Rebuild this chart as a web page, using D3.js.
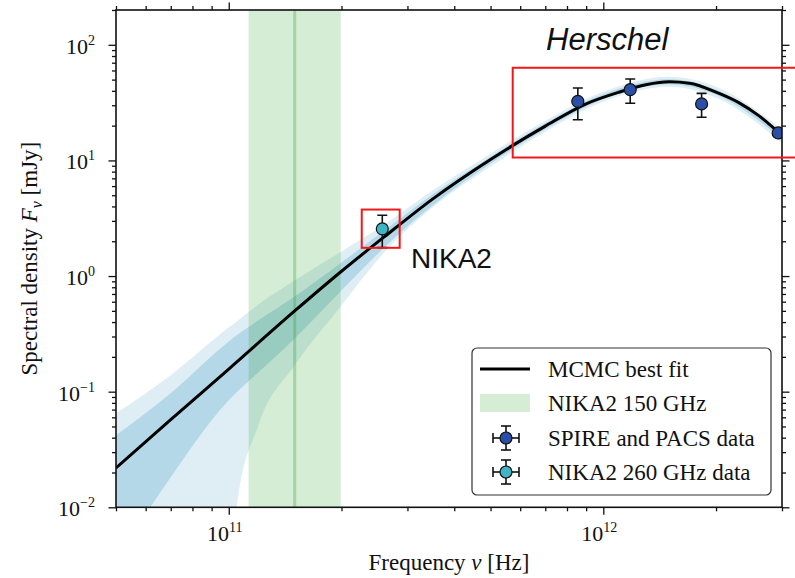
<!DOCTYPE html>
<html>
<head>
<meta charset="utf-8">
<script src="https://cdn.jsdelivr.net/npm/d3@7"></script>
<style>
  body { margin: 0; background: #fff; }
  svg { display: block; }
</style>
</head>
<body>
<svg id="chart" width="795" height="578"></svg>
<script>
// MCMC best-fit spectral energy distribution (Hz, mJy)
const fitFreq = [5e10, 7e10, 1e11, 1.5e11, 2e11, 2.6e11, 3.5e11, 5e11, 7e11, 9e11,
                 1.1e12, 1.3e12, 1.5e12, 1.7e12, 2e12, 2.3e12, 2.6e12, 3e12];
const fitFlux = [0.0219, 0.0572, 0.157, 0.499, 1.10, 2.18, 4.63, 10.2, 19.8, 30.9,
                 38.9, 45.2, 47.9, 46.5, 38.9, 31.6, 24.4, 16.4];

// posterior envelopes around the fit
const bandFreq   = [5e10, 7e10, 1e11, 1.05e11, 1.2e11, 1.5e11, 2e11, 2.6e11, 3.5e11,
                    5e11, 7e11, 1e12, 1.5e12, 2e12, 3e12];
const outerUpper = [0.0651, 0.1386, 0.360, 0.4055, 0.5685, 0.916, 1.631, 2.79, 5.49,
                    11.45, 22.07, 39.3, 52.9, 43.4, 18.45];
const outerLower = [0.00001, 0.0001, 0.0016, 0.0100, 0.0513, 0.169, 0.557, 1.60, 3.91,
                    8.84, 17.73, 32.2, 43.4, 34.85, 14.25];
const innerUpper = [0.0420, 0.0969, 0.272, 0.307, 0.414, 0.666, 1.310, 2.476, 5.07,
                    10.78, 21.0, 37.4, 50.4, 40.9, 17.39];
const innerLower = [0.0035, 0.0182, 0.0843, 0.0988, 0.147, 0.289, 0.751, 1.766, 4.07,
                    9.385, 18.64, 33.8, 45.6, 37.0, 15.43];

// Herschel SPIRE / PACS photometry
const spireFreq = [8.55e11, 1.18e12, 1.83e12, 2.93e12];
const spireFlux = [32.4, 40.9, 30.8, 17.3];
const spireErr  = [9.9, 9.7, 7.2, 1.2];

// NIKA2 260 GHz photometry
const nikaFreq = [2.57e11];
const nikaFlux = [2.56];
const nikaErr  = [0.8];

// NIKA2 150 GHz bandpass
const nika150Span = [1.13e11, 1.99e11];
const nika150Centre = [1.5e11];

// axis decades
const xTickExps = [11, 12];
const yTickExps = [-2, -1, 0, 1, 2];

const legendLabels = ["MCMC best fit", "NIKA2 150 GHz", "SPIRE and PACS data", "NIKA2 260 GHz data"];

const serif = "'Liberation Serif', 'Times New Roman', serif";
const sans = "'Liberation Sans', Arial, sans-serif";
const blue = "#8cc3da";
const spireColor = "#2b4fa6";
const nikaColor = "#3fb4c4";

const svg = d3.select("#chart");
const plot = { left: 116, right: 782, top: 10, bottom: 507.3 };

const x = d3.scaleLog().domain([5e10, 3e12]).range([plot.left, plot.right]);
const y = d3.scaleLog().domain([1e-2, 200]).range([plot.bottom, plot.top]);

svg.append("defs").append("clipPath").attr("id", "plot-clip")
  .append("rect")
  .attr("x", plot.left).attr("y", plot.top)
  .attr("width", plot.right - plot.left).attr("height", plot.bottom - plot.top);

const g = svg.append("g").attr("clip-path", "url(#plot-clip)");

// envelopes
const bandRows = (lo, hi) => bandFreq.map((f, i) => ({ f, lo: lo[i], hi: hi[i] }));
const area = d3.area()
  .x(d => x(d.f)).y0(d => y(d.lo)).y1(d => y(d.hi))
  .curve(d3.curveMonotoneX);

g.append("path").datum(bandRows(outerLower, outerUpper))
  .attr("d", area).attr("fill", blue).attr("fill-opacity", 0.28);
g.append("path").datum(bandRows(innerLower, innerUpper))
  .attr("d", area).attr("fill", blue).attr("fill-opacity", 0.52);

// NIKA2 150 GHz band
g.append("rect")
  .attr("x", x(nika150Span[0])).attr("y", plot.top)
  .attr("width", x(nika150Span[1]) - x(nika150Span[0]))
  .attr("height", plot.bottom - plot.top)
  .attr("fill", "#2ca02c").attr("fill-opacity", 0.2);
g.selectAll(".nika150-centre").data(nika150Centre).join("line")
  .attr("x1", d => x(d)).attr("x2", d => x(d))
  .attr("y1", plot.top).attr("y2", plot.bottom)
  .attr("stroke", "#2ca02c").attr("stroke-opacity", 0.3).attr("stroke-width", 3);

// best fit
const line = d3.line().x(d => x(d[0])).y(d => y(d[1])).curve(d3.curveMonotoneX);
g.append("path").datum(fitFreq.map((f, i) => [f, fitFlux[i]]))
  .attr("d", line).attr("fill", "none").attr("stroke", "#000").attr("stroke-width", 3);

// photometry with error bars
function drawPoints(freq, flux, err, fill) {
  const pts = freq.map((f, i) => ({ f, v: flux[i], e: err[i] }));
  const grp = g.append("g");
  const eb = grp.selectAll("g").data(pts).join("g")
    .attr("stroke", "#111").attr("stroke-width", 1.6);
  eb.append("line")
    .attr("x1", d => x(d.f)).attr("x2", d => x(d.f))
    .attr("y1", d => y(d.v - d.e)).attr("y2", d => y(d.v + d.e));
  eb.append("line")
    .attr("x1", d => x(d.f) - 5).attr("x2", d => x(d.f) + 5)
    .attr("y1", d => y(d.v + d.e)).attr("y2", d => y(d.v + d.e));
  eb.append("line")
    .attr("x1", d => x(d.f) - 5).attr("x2", d => x(d.f) + 5)
    .attr("y1", d => y(d.v - d.e)).attr("y2", d => y(d.v - d.e));
  grp.selectAll("circle").data(pts).join("circle")
    .attr("cx", d => x(d.f)).attr("cy", d => y(d.v)).attr("r", 6)
    .attr("fill", fill).attr("stroke", "#111").attr("stroke-width", 1.2);
}
drawPoints(spireFreq, spireFlux, spireErr, spireColor);
drawPoints(nikaFreq, nikaFlux, nikaErr, nikaColor);

// ticks
function minorTicks(lo, hi) {
  const out = [];
  for (let e = Math.floor(Math.log10(lo)); e <= Math.ceil(Math.log10(hi)); e++) {
    for (let k = 2; k <= 9; k++) {
      const v = k * Math.pow(10, e);
      if (v >= lo * 0.999 && v <= hi * 1.001) out.push(v);
    }
  }
  return out;
}
const xMajor = xTickExps.map(e => Math.pow(10, e));
const yMajor = yTickExps.map(e => Math.pow(10, e));
const xMinor = minorTicks(...x.domain());
const yMinor = minorTicks(...y.domain());

function styleAxis(sel) {
  sel.select(".domain").remove();
  sel.selectAll(".tick line").attr("stroke", "#111").attr("stroke-width", 1.3);
}
const mk = (axisFn, scale, vals, size) =>
  axisFn(scale).tickValues(vals).tickSize(size).tickFormat("");

const axes = svg.append("g");
[[d3.axisBottom, x, `translate(0,${plot.bottom})`],
 [d3.axisTop, x, `translate(0,${plot.top})`]].forEach(([fn, s, t]) => {
  axes.append("g").attr("transform", t).call(mk(fn, s, xMinor, 4)).call(styleAxis);
  axes.append("g").attr("transform", t).call(mk(fn, s, xMajor, 7.5)).call(styleAxis);
});
[[d3.axisLeft, y, `translate(${plot.left},0)`],
 [d3.axisRight, y, `translate(${plot.right},0)`]].forEach(([fn, s, t]) => {
  axes.append("g").attr("transform", t).call(mk(fn, s, yMinor, 4)).call(styleAxis);
  axes.append("g").attr("transform", t).call(mk(fn, s, yMajor, 7.5)).call(styleAxis);
});

// frame
svg.append("rect")
  .attr("x", plot.left).attr("y", plot.top)
  .attr("width", plot.right - plot.left).attr("height", plot.bottom - plot.top)
  .attr("fill", "none").attr("stroke", "#111").attr("stroke-width", 1.6);

// power-of-ten labels
const expText = e => (e < 0 ? "\u2212" + Math.abs(e) : String(e));
function powerLabel(sel, e) {
  sel.append("tspan").text("10");
  sel.append("tspan").attr("font-size", 14).attr("dy", -9).text(expText(e));
}
svg.append("g").selectAll("text").data(xTickExps).join("text")
  .attr("x", d => x(Math.pow(10, d)) - 4).attr("y", 541)
  .attr("text-anchor", "middle").attr("font-family", serif).attr("font-size", 22)
  .attr("fill", "#111")
  .each(function (d) { powerLabel(d3.select(this), d); });
svg.append("g").selectAll("text").data(yTickExps).join("text")
  .attr("x", 95).attr("y", d => y(Math.pow(10, d)) + 9)
  .attr("text-anchor", "end").attr("font-family", serif).attr("font-size", 22)
  .attr("fill", "#111")
  .each(function (d) { powerLabel(d3.select(this), d); });

// axis titles
const xt = svg.append("text")
  .attr("x", (plot.left + plot.right) / 2).attr("y", 570)
  .attr("text-anchor", "middle").attr("font-family", serif).attr("font-size", 23).attr("fill", "#111");
xt.append("tspan").text("Frequency ");
xt.append("tspan").attr("font-style", "italic").text("\u03bd");
xt.append("tspan").text(" [Hz]");

const yt = svg.append("text")
  .attr("transform", `translate(37,${(plot.top + plot.bottom) / 2}) rotate(-90)`)
  .attr("text-anchor", "middle").attr("font-family", serif).attr("font-size", 23).attr("fill", "#111");
yt.append("tspan").text("Spectral density ");
yt.append("tspan").attr("font-style", "italic").text("F");
yt.append("tspan").attr("font-style", "italic").attr("font-size", 16).attr("dy", 5).text("\u03bd");
yt.append("tspan").attr("dy", -5).text(" [mJy]");

// annotation boxes
svg.append("rect")
  .attr("x", x(5.73e11)).attr("y", y(63.3))
  .attr("width", 800 - x(5.73e11)).attr("height", y(10.6) - y(63.3))
  .attr("fill", "none").attr("stroke", "#f01818").attr("stroke-width", 2);
svg.append("rect")
  .attr("x", x(2.265e11)).attr("y", y(3.76))
  .attr("width", x(2.86e11) - x(2.265e11)).attr("height", y(1.755) - y(3.76))
  .attr("fill", "none").attr("stroke", "#f01818").attr("stroke-width", 2);

svg.append("text").attr("x", 546).attr("y", 50)
  .attr("font-family", sans).attr("font-style", "italic").attr("font-size", 31)
  .attr("fill", "#111").text("Herschel");
svg.append("text").attr("x", 411).attr("y", 268)
  .attr("font-family", sans).attr("font-size", 28)
  .attr("fill", "#111").text("NIKA2");

// legend
const lg = svg.append("g");
lg.append("rect").attr("x", 472).attr("y", 348).attr("width", 299).attr("height", 147)
  .attr("rx", 5).attr("fill", "#fff").attr("fill-opacity", 0.85)
  .attr("stroke", "#333").attr("stroke-width", 1.2);
const rowY = [369, 403, 438, 472];
lg.selectAll("text").data(legendLabels).join("text")
  .attr("x", 548).attr("y", (d, i) => rowY[i] + 8)
  .attr("font-family", serif).attr("font-size", 23).attr("fill", "#111")
  .text(d => d);
lg.append("line").attr("x1", 480).attr("x2", 530).attr("y1", rowY[0]).attr("y2", rowY[0])
  .attr("stroke", "#000").attr("stroke-width", 3);
lg.append("rect").attr("x", 480).attr("y", rowY[1] - 9).attr("width", 50).attr("height", 18)
  .attr("fill", "#2ca02c").attr("fill-opacity", 0.2);
[[rowY[2], spireColor], [rowY[3], nikaColor]].forEach(([cy, fill]) => {
  const cx = 506;
  const h = lg.append("g").attr("stroke", "#111").attr("stroke-width", 1.6);
  h.append("line").attr("x1", cx - 13).attr("x2", cx + 13).attr("y1", cy).attr("y2", cy);
  h.append("line").attr("x1", cx - 13).attr("x2", cx - 13).attr("y1", cy - 5).attr("y2", cy + 5);
  h.append("line").attr("x1", cx + 13).attr("x2", cx + 13).attr("y1", cy - 5).attr("y2", cy + 5);
  h.append("line").attr("x1", cx).attr("x2", cx).attr("y1", cy - 12).attr("y2", cy + 12);
  h.append("line").attr("x1", cx - 5).attr("x2", cx + 5).attr("y1", cy - 12).attr("y2", cy - 12);
  h.append("line").attr("x1", cx - 5).attr("x2", cx + 5).attr("y1", cy + 12).attr("y2", cy + 12);
  lg.append("circle").attr("cx", cx).attr("cy", cy).attr("r", 6)
    .attr("fill", fill).attr("stroke", "#111").attr("stroke-width", 1.2);
});
</script>
</body>
</html>
